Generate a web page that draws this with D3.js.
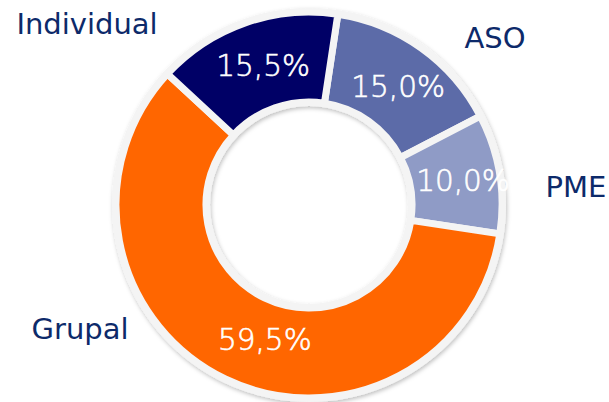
<!DOCTYPE html>
<html>
<head>
<meta charset="utf-8">
<script src="https://cdn.jsdelivr.net/npm/d3@7"></script>
<style>
html,body{margin:0;padding:0;background:#fff;}
svg{display:block;}
</style>
</head>
<body>
<svg id="chart" width="609" height="402"></svg>
<script>
// Data (clockwise order starting near the top)
const categories = ["ASO", "PME", "Grupal", "Individual"];
const values = [15.0, 10.0, 59.5, 15.5];
const valueLabels = ["15,0%", "10,0%", "59,5%", "15,5%"];
const colors = ["#5c6ba8", "#8f9bc6", "#ff6600", "#000066"];

const svg = d3.select("#chart");
const cx = 309, cy = 205;
const outerR = 193, innerR = 103;
const startOffset = 8.6 * Math.PI / 180;

const defs = svg.append("defs");
const f = defs.append("filter").attr("id", "shadow").attr("x", "-10%").attr("y", "-10%").attr("width", "120%").attr("height", "120%");
f.append("feDropShadow").attr("dx", 1).attr("dy", 2).attr("stdDeviation", 2).attr("flood-color", "#000").attr("flood-opacity", 0.25);

const pie = d3.pie().sort(null).value(d => d)
  .startAngle(startOffset).endAngle(startOffset + 2 * Math.PI);
const arcs = pie(values);
const arc = d3.arc().innerRadius(innerR).outerRadius(outerR);
const labelArc = d3.arc().innerRadius(148).outerRadius(148);

const g = svg.append("g").attr("transform", `translate(${cx},${cy})`);

// background ring for outline + shadow
g.append("path")
  .attr("d", d3.arc().innerRadius(innerR - 4).outerRadius(outerR + 4).startAngle(0).endAngle(2 * Math.PI)())
  .attr("fill", "#f4f4f4")
  .attr("filter", "url(#shadow)");

g.selectAll("path.slice").data(arcs).enter().append("path")
  .attr("class", "slice")
  .attr("d", arc)
  .attr("fill", (d, i) => colors[i])
  .attr("stroke", "#f4f4f4")
  .attr("stroke-width", 7)
  .attr("stroke-linejoin", "miter");

// layout nudges for value labels (pixels)
const nudge = [[3, 2], [8, 0], [20, 1], [3, 0]];
g.selectAll("text.val").data(arcs).enter().append("text")
  .attr("class", "val")
  .attr("transform", (d, i) => { const c = labelArc.centroid(d); return `translate(${c[0] + nudge[i][0]},${c[1] + nudge[i][1]})`; })
  .attr("text-anchor", "middle")
  .attr("dy", "0.36em")
  .attr("fill", "#ffffff")
  .attr("stroke", "#ffffff")
  .attr("stroke-width", 0.6)
  .attr("font-family", "DejaVu Sans, Verdana, sans-serif")
  .attr("font-weight", 200)
  .attr("font-size", 29.5)
  .text((d, i) => valueLabels[i]);

// Category labels
const catPos = {"Individual": [87, 34], "ASO": [495, 48], "PME": [576, 197], "Grupal": [80, 339]};
svg.selectAll("text.cat").data(categories).enter().append("text")
  .attr("class", "cat")
  .attr("x", d => catPos[d][0])
  .attr("y", d => catPos[d][1])
  .attr("text-anchor", "middle")
  .attr("fill", "#0d2a6a")
  .attr("font-family", "DejaVu Sans, Verdana, sans-serif")
  .attr("font-size", 29)
  .text(d => d);
</script>
</body>
</html>
